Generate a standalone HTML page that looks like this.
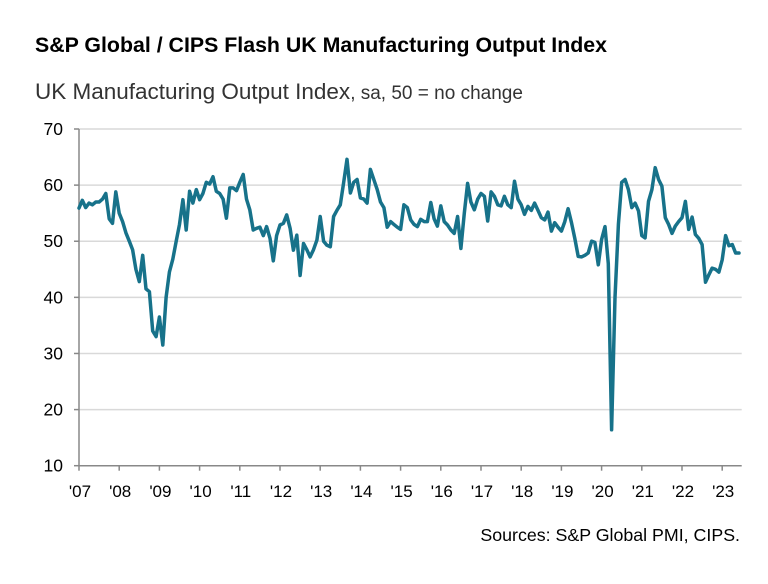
<!DOCTYPE html>
<html><head><meta charset="utf-8">
<style>
body{margin:0;background:#fff;font-family:"Liberation Sans",Arial,sans-serif;}
svg{display:block}
</style></head>
<body>
<svg id="chart" width="768" height="584" xmlns="http://www.w3.org/2000/svg">
<rect width="768" height="584" fill="#fff"/>
<text x="35" y="52" font-size="21" font-weight="bold" fill="#000" textLength="572" lengthAdjust="spacingAndGlyphs">S&amp;P Global / CIPS Flash UK Manufacturing Output Index</text>
<text x="35" y="99" font-size="22.5" fill="#333">UK Manufacturing Output Index<tspan font-size="19">, sa, 50 = no change</tspan></text>
<g id="grid"></g>
<g id="axes"></g>
<g id="series"></g>
<text x="740" y="541" font-size="17.8" text-anchor="end" fill="#000">Sources: S&amp;P Global PMI, CIPS.</text>
</svg>
<script>
const yTicks=[10,20,30,40,50,60,70];
const yearLabels=["'07","'08","'09","'10","'11","'12","'13","'14","'15","'16","'17","'18","'19","'20","'21","'22","'23"];
const outputIndex=[55.9,57.3,56,56.8,56.5,57,57,57.5,58.5,54,53.2,58.8,55,53.5,51.5,50,48.5,45,42.8,47.5,41.5,41,34,33,36.5,31.5,40,44.5,46.8,50,53,57.4,52,58.9,56.8,59.2,57.4,58.5,60.5,60.2,61.5,58.9,58.5,57.5,54.1,59.5,59.5,59,60.5,61.9,57.5,55.6,52,52.3,52.5,51,52.6,50.5,46.5,51,52.9,53.2,54.7,52.3,48.4,51.1,43.9,49.6,48.5,47.2,48.5,50.2,54.4,50,49.3,49,54.4,55.5,56.5,60.5,64.6,58.6,60.5,61,57.7,57.5,56.8,62.8,61,59.2,57,56,52.5,53.5,53,52.5,52.1,56.5,56,53.8,53,52.6,53.9,53.5,53.5,56.9,54,52.7,56.3,53.5,52.9,52,51.4,54.4,48.7,55,60.3,57,55.6,57.5,58.5,58,53.6,58.8,58,56.5,56.3,58,56.5,56,60.7,57.5,56.5,54.8,56.2,55.5,56.8,55.5,54.2,53.8,55.2,51.8,53.3,52.5,51.8,53.5,55.8,53.3,50.5,47.3,47.2,47.5,47.9,50,49.8,45.8,50.3,52.6,46,16.4,40,53,60.5,61,59.2,56,56.8,55.4,51,50.6,57.1,59.2,63.1,61,59.8,54.2,53,51.4,52.7,53.5,54.2,57.1,52.1,54.3,51.2,50.5,49.4,42.7,44,45.2,45,44.5,46.7,51,49.2,49.4,47.9,47.9];
const NS="http://www.w3.org/2000/svg";
const X0=79,X1=741.7,MW=3.35,Y0=465.7,Y1=129;
function xm(i){return X0+i*MW;}
function yv(v){return Y0-(v-10)*(Y0-Y1)/60;}
function mk(tag,attrs,parent){const e=document.createElementNS(NS,tag);for(const k in attrs)e.setAttribute(k,attrs[k]);parent.appendChild(e);return e;}
const grid=document.getElementById('grid'),axes=document.getElementById('axes'),series=document.getElementById('series');
yTicks.forEach(t=>{
  if(t>10){const l=mk('line',{x1:X0,x2:X1,y1:yv(t),y2:yv(t),stroke:'#d9d9d9','stroke-width':1.5},grid);
  
  }
  mk('line',{x1:X0-5,x2:X0,y1:yv(t),y2:yv(t),stroke:'#888','stroke-width':1.5},axes);
  const tx=mk('text',{x:63,y:yv(t)+6,'font-size':17.5,'text-anchor':'end',fill:'#000'},axes);
  tx.textContent=t;
  
  
});
const ya=mk('line',{x1:X0,x2:X0,y1:Y1,y2:Y0,stroke:'#888','stroke-width':1.5},axes);


const xa=mk('line',{x1:X0,x2:X1,y1:Y0,y2:Y0,stroke:'#888','stroke-width':1.5},axes);


yearLabels.forEach((lab,i)=>{
  const x=xm(i*12);
  mk('line',{x1:x,x2:x,y1:Y0,y2:Y0+5,stroke:'#888','stroke-width':1.5},axes);
  const tx=mk('text',{x:x+1,y:497,'font-size':17,'text-anchor':'middle',fill:'#000'},axes);
  tx.textContent=lab;
  
  
});
const d=outputIndex.map((v,i)=>(i?'L':'M')+xm(i).toFixed(1)+','+yv(v).toFixed(1)).join(' ');
const p=mk('path',{d:d,fill:'none',stroke:'#17728a','stroke-width':3.5,'stroke-linejoin':'round','stroke-linecap':'round'},series);


</script>
</body></html>
